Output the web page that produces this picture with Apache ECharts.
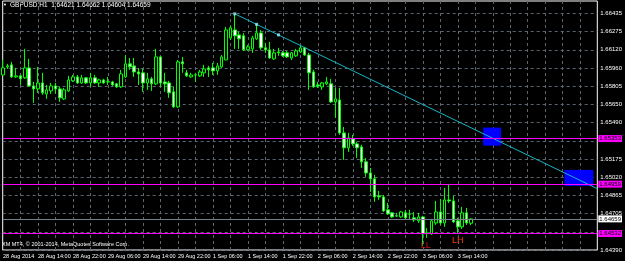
<!DOCTYPE html>
<html><head><meta charset="utf-8">
<script src="https://cdn.jsdelivr.net/npm/echarts@6/dist/echarts.min.js"></script>
<style>html,body{margin:0;padding:0;background:#000;}#c{width:625px;height:261px;}</style>
</head><body><div id="c"></div>
<script>
// ---- data ----
const timeLabels = ['28 Aug 2014','28 Aug 14:00','28 Aug 22:00','29 Aug 06:00','29 Aug 14:00','29 Aug 22:00',
  '1 Sep 06:00','1 Sep 14:00','1 Sep 22:00','2 Sep 06:00','2 Sep 14:00','2 Sep 22:00','3 Sep 06:00','3 Sep 14:00'];
const barsPerLabel = 8;
const barsPerGrid = 4;
const priceTickLabels = ['1.66435','1.66275','1.66120','1.65960','1.65805','1.65650','1.65490','','1.65175','1.65020','1.64865','1.64705','','1.64390'];

const open = [
1.65903,1.65973,1.65990,1.65886,1.65895,1.65878,1.65964,1.65808,1.65782,1.65834,
1.65739,1.65765,1.65808,1.65782,1.65696,1.65765,1.65852,1.65886,1.65834,1.65878,
1.65834,1.65878,1.65834,1.65860,1.65843,1.65843,1.65826,1.65800,1.65886,1.65999,
1.65981,1.65929,1.65921,1.65834,1.65869,1.65826,1.66059,1.65843,1.65834,1.65757,
1.65627,1.66016,1.65921,1.65886,1.65903,1.65895,1.65921,1.65964,1.65964,1.65938,
1.65973,1.66033,1.66223,1.66292,1.66249,1.66241,1.66120,1.66128,1.66215,1.66266,
1.66137,1.66120,1.66042,1.66102,1.66094,1.66094,1.66050,1.66068,1.66102,1.66137,
1.66076,1.65929,1.65817,1.65800,1.65826,1.65826,1.65670,1.65687,1.65402,1.65273,
1.65350,1.65307,1.65281,1.65152,1.65056,1.65005,1.64858,1.64849,1.64737,1.64711,
1.64685,1.64676,1.64711,1.64702,1.64668,1.64642,1.64676,1.64538,1.64529,1.64624,
1.64719,1.64624,1.64823,1.64814,1.64642,1.64590,1.64711,1.64621];
const close = [
1.65964,1.65981,1.65886,1.65895,1.65869,1.65964,1.65808,1.65782,1.65834,1.65748,
1.65774,1.65808,1.65782,1.65705,1.65774,1.65860,1.65886,1.65834,1.65878,1.65834,
1.65878,1.65834,1.65860,1.65834,1.65845,1.65817,1.65800,1.65912,1.65999,1.65973,
1.65929,1.65912,1.65834,1.65869,1.65826,1.66059,1.65834,1.65826,1.65748,1.65627,
1.66016,1.65999,1.65895,1.65903,1.65905,1.65929,1.65955,1.65947,1.65938,1.65981,
1.66059,1.66292,1.66310,1.66241,1.66215,1.66120,1.66146,1.66223,1.66266,1.66137,
1.66120,1.66050,1.66094,1.66094,1.66068,1.66059,1.66094,1.66111,1.66137,1.66076,
1.65921,1.65800,1.65808,1.65834,1.65843,1.65670,1.65696,1.65402,1.65273,1.65359,
1.65307,1.65273,1.65152,1.65056,1.65005,1.64849,1.64849,1.64728,1.64702,1.64676,
1.64683,1.64719,1.64668,1.64700,1.64650,1.64676,1.64529,1.64532,1.64642,1.64719,
1.64624,1.64823,1.64814,1.64633,1.64590,1.64711,1.64624,1.64659];
const low = [
1.65895,1.65955,1.65878,1.65878,1.65817,1.65869,1.65800,1.65661,1.65748,1.65731,
1.65696,1.65739,1.65739,1.65670,1.65687,1.65757,1.65843,1.65826,1.65826,1.65826,
1.65800,1.65826,1.65800,1.65826,1.65817,1.65808,1.65791,1.65791,1.65878,1.65947,
1.65886,1.65817,1.65757,1.65774,1.65765,1.65817,1.65800,1.65757,1.65705,1.65618,
1.65618,1.65921,1.65886,1.65878,1.65843,1.65886,1.65886,1.65886,1.65903,1.65903,
1.65964,1.66030,1.66206,1.66128,1.66128,1.66111,1.66111,1.66094,1.66206,1.66120,
1.66094,1.66042,1.66033,1.66068,1.66059,1.66050,1.66033,1.66059,1.66094,1.66068,
1.65774,1.65791,1.65791,1.65774,1.65817,1.65661,1.65532,1.65385,1.65169,1.65238,
1.65290,1.65186,1.65100,1.65022,1.64892,1.64806,1.64823,1.64719,1.64693,1.64668,
1.64676,1.64668,1.64650,1.64650,1.64633,1.64624,1.64426,1.64495,1.64521,1.64607,
1.64607,1.64590,1.64797,1.64624,1.64538,1.64572,1.64607,1.64604];
const high = [
1.66033,1.65999,1.66016,1.65964,1.65903,1.66128,1.66042,1.65843,1.65973,1.65921,
1.65817,1.65834,1.65834,1.65800,1.65791,1.65895,1.65903,1.65903,1.65903,1.65886,
1.65921,1.65903,1.65869,1.65869,1.65886,1.65852,1.65834,1.65947,1.66076,1.66050,
1.66050,1.65964,1.65955,1.65921,1.65886,1.66128,1.66068,1.65921,1.65852,1.65800,
1.66033,1.66059,1.65947,1.65921,1.65921,1.65947,1.65990,1.65981,1.66007,1.66007,
1.66076,1.66318,1.66327,1.66431,1.66275,1.66266,1.66163,1.66241,1.66344,1.66292,
1.66180,1.66189,1.66128,1.66137,1.66111,1.66111,1.66102,1.66128,1.66154,1.66146,
1.66094,1.65947,1.65843,1.65843,1.65886,1.65869,1.65791,1.65791,1.65454,1.65402,
1.65385,1.65324,1.65299,1.65186,1.65100,1.65039,1.64901,1.64866,1.64797,1.64719,
1.64711,1.64728,1.64737,1.64737,1.64719,1.64711,1.64685,1.64581,1.64659,1.64814,
1.64832,1.64927,1.64961,1.64858,1.64668,1.64763,1.64754,1.64662];

const levelPrices = [1.65353, 1.64959, 1.64532];
const bidPrice = 1.64659;
const trendBars = [53, 135.9];
const trendPrices = [1.66431, 1.64920];
const trendMarkerBars = [53, 58, 63];
const trendMarkerPrices = [1.66431, 1.66340, 1.66249];
// blue boxes
const boxBarsFrom = [109.8, 128.4];
const boxBarsTo = [113.9, 135.0];
const boxPriceTop = [1.65448, 1.65082];
const boxPriceBottom = [1.65292, 1.64944];
const textLabels = ['LL', 'LH'];
const textBars = [96.7, 104.0];
const textPrices = [1.64426, 1.64472];
const textColors = ['#c41616', '#ff3a10'];

// ---- build ----
const FONT = 'Liberation Sans';
const topTick = parseFloat(priceTickLabels[0]);
const botTick = parseFloat(priceTickLabels[priceTickLabels.length - 1]);
const yStep = (topTick - botTick) / (priceTickLabels.length - 1);
const yTicks = priceTickLabels.map((_, k) => +(topTick - k * yStep).toFixed(7));
const xLabelBars = timeLabels.map((_, k) => k * barsPerLabel);
const xGridBars = [];
for (let b = barsPerGrid; b <= 132; b += barsPerGrid) xGridBars.push(b);

const candles = open.map((o, i) => [i, o, close[i], low[i], high[i]]);
const gridStyle = { color: '#5b6670', width: 1, type: [3, 3] };
const lvlLabel = (bg) => ({ show: true, position: 'end', distance: 1, color: '#000', backgroundColor: bg, fontSize: 6, fontFamily: FONT, padding: [1, 1, 0, 1] });

const chart = echarts.init(document.getElementById('c'), null, { renderer: 'canvas' });
chart.setOption({
  backgroundColor: '#000',
  animation: false,
  grid: { left: 1, top: 1, right: 24, bottom: 11, show: true, borderColor: '#ffffff', borderWidth: 1, backgroundColor: '#000' },
  xAxis: {
    type: 'value', min: -0.068, max: 135.909,
    axisLine: { show: false },
    axisTick: { show: false, customValues: xGridBars },
    splitLine: { show: true, lineStyle: gridStyle },
    axisLabel: {
      customValues: xLabelBars, color: '#ffffff', fontSize: 5.5, fontFamily: FONT, align: 'left', margin: 3,
      formatter: v => timeLabels[Math.round(v / barsPerLabel)] || ''
    }
  },
  yAxis: {
    type: 'value', position: 'right', min: 1.64390, max: 1.66542, scale: true,
    axisLine: { show: false },
    axisTick: { show: false, customValues: yTicks },
    splitLine: { show: true, lineStyle: gridStyle },
    axisLabel: {
      customValues: yTicks, color: '#ffffff', fontSize: 6, fontFamily: FONT, margin: 3,
      formatter: v => priceTickLabels[Math.round((topTick - v) / yStep)] || ''
    }
  },
  series: [
    {
      type: 'custom', z: 1,
      data: boxBarsFrom.map((b, k) => [b, boxPriceTop[k], boxBarsTo[k], boxPriceBottom[k]]),
      renderItem: (params, api) => {
        const p1 = api.coord([api.value(0), api.value(1)]);
        const p2 = api.coord([api.value(2), api.value(3)]);
        return { type: 'rect', shape: { x: p1[0], y: p1[1], width: p2[0] - p1[0], height: p2[1] - p1[1] }, style: { fill: '#0000ff' } };
      }
    },
    {
      type: 'candlestick', z: 2,
      data: candles,
      barWidth: 3,
      itemStyle: { color: '#000000', color0: '#ffffff', borderColor: '#00ff00', borderColor0: '#00ff00', borderColorDoji: '#00ff00', borderWidth: 1 }
    },
    {
      type: 'line', z: 3, symbol: 'none',
      data: trendBars.map((b, k) => [b, trendPrices[k]]),
      lineStyle: { color: '#16b6c4', width: 1 },
      markLine: {
        silent: true, symbol: 'none', animation: false, precision: 5,
        data: levelPrices.map(p => ({
          yAxis: p, lineStyle: { color: '#ff00ff', width: 1, type: 'solid' },
          label: Object.assign(lvlLabel('#ff00ff'), { formatter: p.toFixed(5) })
        })).concat([{
          yAxis: bidPrice, lineStyle: { color: '#75808a', width: 1, type: 'solid' },
          label: Object.assign(lvlLabel('#ffffff'), { formatter: bidPrice.toFixed(5) })
        }])
      }
    },
    {
      type: 'scatter', z: 4, symbol: 'rect', symbolSize: 3,
      data: trendMarkerBars.map((b, k) => [b, trendMarkerPrices[k]]),
      itemStyle: { color: '#8ef0ff' }
    },
    {
      type: 'custom', z: 5, clip: false,
      data: textBars.map((b, k) => [b, textPrices[k], k]),
      renderItem: (params, api) => {
        const k = api.value(2);
        const p = api.coord([api.value(0), api.value(1)]);
        return { type: 'text', x: p[0], y: p[1], z2: 100,
          style: { text: textLabels[k], fill: textColors[k], font: '9px ' + FONT, align: 'center', verticalAlign: 'middle' } };
      }
    }
  ],
  graphic: [
    { type: 'text', left: 3, top: 3, style: { text: '▼', fill: '#ffffff', font: '4px ' + FONT } },
    { type: 'text', left: 10, top: 2, style: { text: 'GBPUSD,H1  1.64621 1.64662 1.64604 1.64659', fill: '#ffffff', font: '6.5px ' + FONT } },
    { type: 'text', left: 2, top: 241, style: { text: 'XM MT4, © 2001-2014, MetaQuotes Software Corp.', fill: '#ffffff', font: '5.5px ' + FONT } }
  ]
});
</script></body></html>
